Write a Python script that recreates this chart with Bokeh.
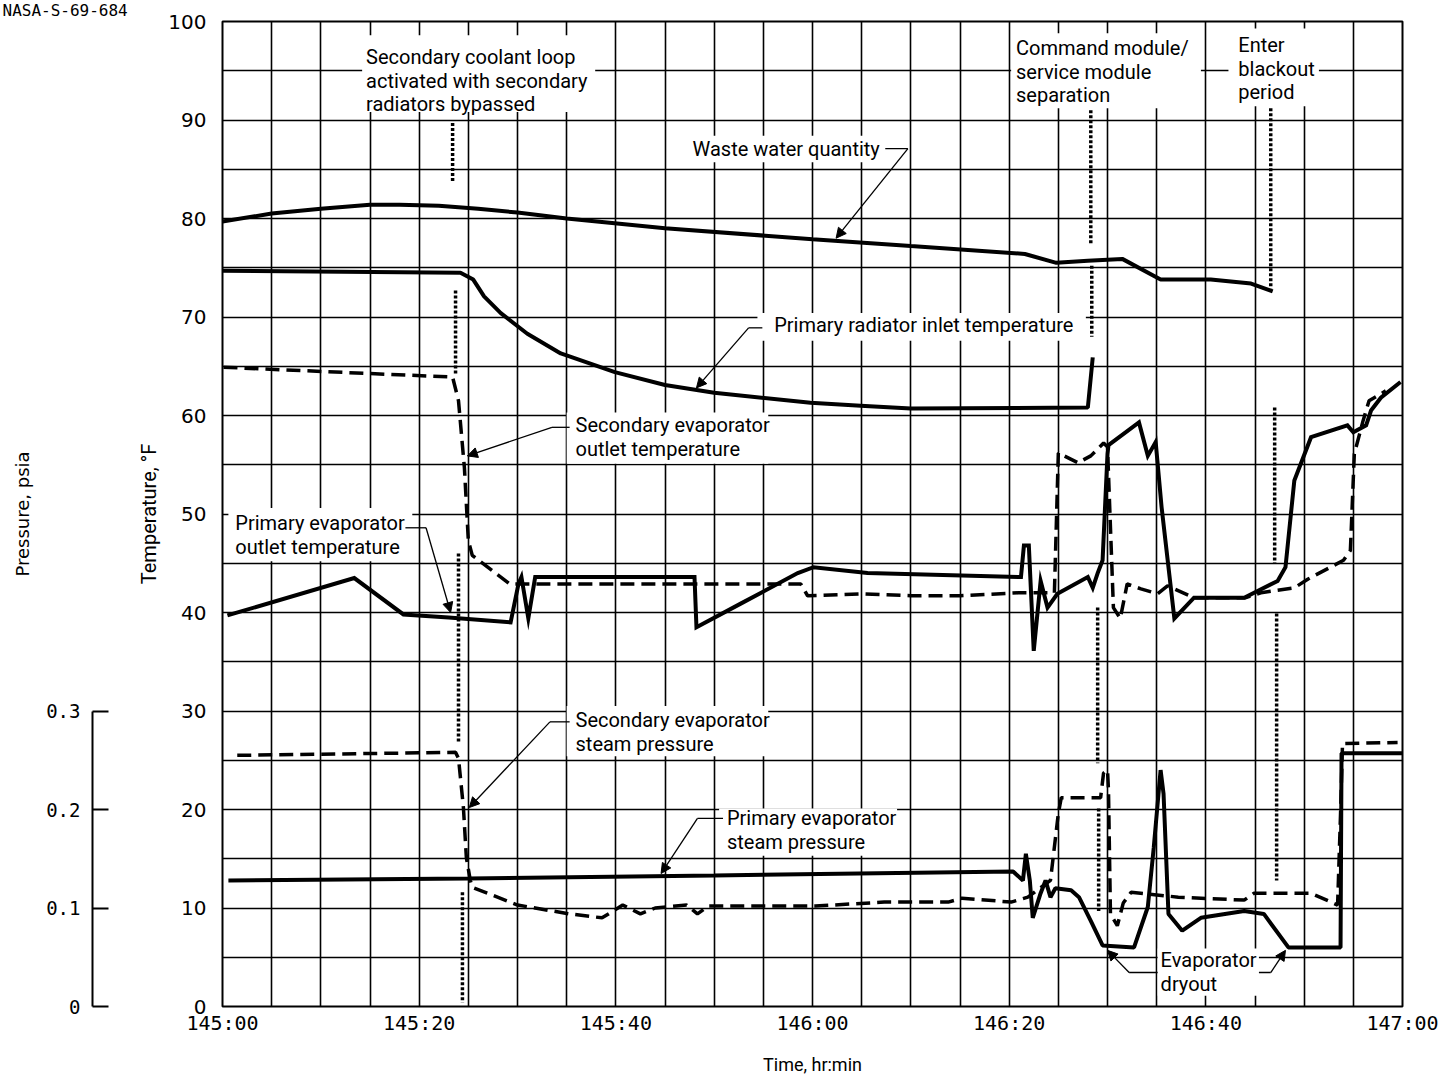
from bokeh.plotting import figure
from bokeh.models import (Range1d, LinearAxis, FixedTicker, ColumnDataSource,
                          Arrow, NormalHead, Title)
from bokeh.embed import file_html
from bokeh.resources import INLINE
from bokeh.core.properties import value

# ---------------- data (time = minutes after 145:00) ----------------
x_ticks = [0, 20, 40, 60, 80, 100, 120]
x_tick_labels = ["145:00", "145:20", "145:40", "146:00", "146:20", "146:40", "147:00"]
temp_ticks = [0, 10, 20, 30, 40, 50, 60, 70, 80, 90, 100]
pressure_ticks = [0, 0.1, 0.2, 0.3]
pressure_tick_labels = ["0", "0.1", "0.2", "0.3"]

# Waste water quantity (plotted on the 0-100 scale)
t_waste = [0, 5, 10, 15, 18, 22, 26, 30, 35, 45, 60, 70, 81.6, 84.8, 88, 91.5, 95.4, 100.5, 104.6, 106.8]
v_waste = [79.7, 80.5, 81.0, 81.4, 81.4, 81.3, 81.0, 80.6, 80.0, 79.0, 77.9, 77.2, 76.4, 75.5, 75.7, 75.9, 73.8, 73.8, 73.4, 72.6]

# Primary radiator inlet temperature, deg F
t_rad = [0, 24.2, 25.5, 26.6, 28.3, 31, 34.4, 39.9, 45, 50, 59.8, 64.9, 70, 88, 88.5]
v_rad = [74.7, 74.5, 73.8, 72.1, 70.4, 68.3, 66.3, 64.4, 63.1, 62.3, 61.3, 61.0, 60.7, 60.8, 65.9]

# Primary evaporator outlet temperature, deg F
t_peo = [0.5, 13.4, 18.4, 23, 29.3, 30.1, 30.4, 31.1, 31.8, 48.0, 48.2, 52.7, 58.5, 60.1, 65.6,
         81.2, 81.5, 82.0, 82.5, 83.2, 83.9, 84.9, 88.0, 88.5, 89.0, 89.5, 90.0, 90.1, 93.2, 94.1,
         94.9, 95.5, 96.8, 98.8, 103.9, 107.3, 108.1, 109.0, 110.7, 114.4, 115.0, 116.3, 116.8,
         117.8, 119.8]
v_peo = [39.7, 43.5, 39.8, 39.5, 39.0, 42.9, 43.6, 39.4, 43.6, 43.6, 38.5, 40.9, 44.0, 44.6, 44.0,
         43.6, 46.8, 46.8, 36.1, 43.2, 40.5, 41.9, 43.6, 42.5, 44.0, 45.3, 56.1, 57.0, 59.3, 55.9,
         57.3, 50.7, 39.4, 41.5, 41.5, 43.2, 44.6, 53.4, 57.8, 59.0, 58.3, 59.0, 60.5,
         61.8, 63.4]

# Secondary evaporator outlet temperature, deg F
t_seo = [0.1, 23.4, 24.0, 24.6, 25.0, 25.4, 29.2, 58.8, 59.5, 65, 70, 75, 80.9, 84.6, 85.0, 87.0,
         88.3, 89.6, 90.0, 90.6, 91.3, 92.0, 93.4, 95.1, 96.1, 98.8, 104, 105.6, 109, 110.4, 114,
         114.7, 115.1, 116.0, 116.6, 118.3]
v_seo = [64.9, 63.9, 61.5, 54.7, 47.3, 45.8, 42.9, 42.9, 41.7, 41.9, 41.7, 41.7, 42.0, 42.0, 56.2,
         55.2, 55.9, 57.2, 56.8, 40.5, 39.4, 42.9, 42.4, 41.9, 42.7, 41.5, 41.5, 42.0, 42.5, 43.4,
         45.3, 46.3, 56.1, 59.5, 61.5, 62.5]

# Secondary evaporator steam pressure, psia
t_ssp = [1.5, 23.7, 24.0, 24.5, 24.8, 25.2, 25.4, 30, 35.3, 38.6, 40.7, 42.5, 44, 47.2, 48.3, 49.4,
         60.3, 67.3, 73.8, 75.2, 80.2, 81.9, 84.2, 85.0, 85.3, 89.3, 89.6, 90.0, 90.1, 90.3, 91.0,
         91.6, 92.4, 97.2, 103.9, 104.9, 110.7, 113.4, 113.7, 113.9, 119.5]
p_ssp = [0.255, 0.258, 0.252, 0.202, 0.151, 0.128, 0.121, 0.103, 0.094, 0.090, 0.103, 0.094, 0.100,
         0.103, 0.094, 0.102, 0.102, 0.106, 0.106, 0.110, 0.106, 0.111, 0.128, 0.196, 0.212, 0.212,
         0.237, 0.240, 0.220, 0.094, 0.082, 0.105, 0.116, 0.111, 0.108, 0.115, 0.115, 0.103, 0.196,
         0.267, 0.268]

# Primary evaporator steam pressure, psia
t_psp = [0.6, 25, 50, 80.4, 81.4, 81.7, 82.1, 82.4, 83.2, 83.7, 84.2, 84.7, 86.3, 87.1, 88.3, 89.5,
         92.7, 94.1, 94.7, 95.4, 95.7, 96.2, 97.6, 99.5, 103.9, 105.9, 108.4, 113.7, 113.8, 120]
p_psp = [0.128, 0.130, 0.133, 0.137, 0.128, 0.155, 0.128, 0.090, 0.115, 0.128, 0.111, 0.120, 0.118,
         0.111, 0.087, 0.062, 0.060, 0.101, 0.161, 0.240, 0.216, 0.094, 0.077, 0.090, 0.097, 0.094,
         0.060, 0.060, 0.257, 0.257]

# Event markers (dotted): time, start value, end value for each drawn piece
ev_t = [23.4, 23.7, 24.0, 24.4, 88.3, 88.4, 89.0, 89.1, 106.6, 107.0, 107.2]
ev_top = [89.7, 72.7, 46.0, 11.6, 91.0, 75.2, 40.5, 20.1, 91.2, 60.8, 39.9]
ev_bot = [83.7, 64.1, 26.7, 0.4, 77.3, 68.0, 24.7, 9.7, 72.9, 45.0, 12.8]

# ---------------- figure ----------------
p = figure(width=1448, height=1078, x_range=Range1d(0, 120), y_range=Range1d(0, 100),
           output_backend="svg", toolbar_location=None,
           min_border_left=222, min_border_right=46, min_border_top=21, min_border_bottom=72)
p.extra_y_ranges = {"pressure": Range1d(0, 1.0)}
p.background_fill_color = "white"
p.border_fill_color = "white"
p.outline_line_color = "black"
p.outline_line_width = 2

p.xgrid.ticker = FixedTicker(ticks=list(range(0, 121, 5)))
p.ygrid.ticker = FixedTicker(ticks=list(range(0, 101, 5)))
p.grid.grid_line_color = "black"
p.grid.grid_line_width = 1.6
p.grid.grid_line_alpha = 1.0

xa = p.xaxis[0]
xa.ticker = FixedTicker(ticks=x_ticks)
xa.major_label_overrides = dict(zip(x_ticks, x_tick_labels))
xa.major_tick_out = 0
xa.major_tick_in = 0
xa.minor_tick_line_color = None
xa.axis_line_color = None
xa.major_label_standoff = 4
xa.major_label_text_font = "DejaVu Sans Mono"
xa.major_label_text_font_size = "20px"
xa.major_label_text_color = "black"
xa.axis_label = "Time, hr:min"
xa.axis_label_text_font = "Roboto"
xa.axis_label_text_font_size = "18px"
xa.axis_label_text_font_style = "normal"
xa.axis_label_text_color = "black"
xa.axis_label_standoff = 16

ya = p.yaxis[0]
ya.ticker = FixedTicker(ticks=temp_ticks)
ya.major_tick_out = 0
ya.major_tick_in = 0
ya.minor_tick_line_color = None
ya.axis_line_color = None
ya.major_label_standoff = 16
ya.major_label_text_font = "DejaVu Sans"
ya.major_label_text_font_size = "20px"
ya.major_label_text_color = "black"
ya.axis_label = "Temperature, °F"
ya.axis_label_text_font = "Roboto"
ya.axis_label_text_font_size = "20px"
ya.axis_label_text_font_style = "normal"
ya.axis_label_text_color = "black"
ya.axis_label_standoff = 4

# blank gap between the temperature scale and the pressure scale
spacer = LinearAxis(ticker=FixedTicker(ticks=[95]), major_tick_out=42, major_tick_in=0,
                    axis_line_color=None, major_tick_line_color="white",
                    minor_tick_line_color=None, major_label_standoff=0,
                    major_label_overrides={95: ""}, major_label_text_font_size="1px")
p.add_layout(spacer, "left")

pa = LinearAxis(y_range_name="pressure", ticker=FixedTicker(ticks=pressure_ticks),
                bounds=(0, 0.3))
pa.major_label_overrides = dict(zip(pressure_ticks, pressure_tick_labels))
pa.major_tick_in = 16
pa.major_tick_out = 0
pa.minor_tick_line_color = None
pa.axis_line_width = 2
pa.major_tick_line_width = 2
pa.major_label_standoff = 12
pa.major_label_text_font = "DejaVu Sans Mono"
pa.major_label_text_font_size = "19px"
pa.major_label_text_color = "black"
pa.axis_label = "Pressure, psia"
pa.axis_label_text_font = "DejaVu Sans"
pa.axis_label_text_font_size = "18px"
pa.axis_label_text_font_style = "normal"
pa.axis_label_text_color = "black"
pa.axis_label_standoff = 10
p.add_layout(pa, "left")

p.add_layout(Title(text="NASA-S-69-684", align="left", offset=-220, standoff=0,
                   text_font="DejaVu Sans Mono", text_font_size="16px",
                   text_font_style="normal", text_color="black", vertical_align="top"), "above")

# ---------------- white label boxes ----------------
boxes = dict(
    left=[14.2, 47.2, 54.4, 35.0, 0.6, 35.0, 50.5, 80.2, 102.3, 95.1],
    right=[37.9, 69.2, 87.8, 55.5, 19.3, 55.5, 68.6, 99.5, 111.5, 105.4],
    top=[98.6, 88.4, 70.4, 60.3, 50.6, 30.5, 20.1, 98.8, 99.3, 5.9],
    bottom=[90.8, 85.7, 67.6, 55.1, 45.2, 25.4, 15.3, 91.2, 91.4, 1.1],
)
p.quad(source=ColumnDataSource(boxes), left="left", right="right", top="top", bottom="bottom",
       fill_color="white", line_color=None)

# ---------------- data lines ----------------
solid_w = 4
dash_w = 3.5
dash = "14 7"
p.line(t_waste, v_waste, line_color="black", line_width=solid_w)
p.line(t_rad, v_rad, line_color="black", line_width=solid_w)
p.line(t_peo, v_peo, line_color="black", line_width=solid_w, line_join="miter")
p.line(t_seo, v_seo, line_color="black", line_width=dash_w, line_dash=dash)
p.line(t_ssp, p_ssp, line_color="black", line_width=dash_w, line_dash=dash, y_range_name="pressure")
p.line(t_psp, p_psp, line_color="black", line_width=solid_w, y_range_name="pressure")

# event markers
p.segment(x0=ev_t, y0=ev_top, x1=ev_t, y1=ev_bot, line_color="black", line_width=3.5,
          line_dash="3 2")

# ---------------- leaders with arrowheads ----------------
leaders = [
    [(67.4, 87.1), (69.7, 87.1), (62.4, 78.0)],
    [(54.9, 68.9), (53.5, 68.9), (48.2, 62.8)],
    [(35.3, 58.8), (33.5, 58.8), (24.9, 55.9)],
    [(18.6, 48.6), (20.7, 48.6), (23.2, 40.0)],
    [(35.3, 28.9), (33.3, 28.9), (25.1, 20.2)],
    [(50.9, 19.1), (48.3, 19.1), (44.6, 13.5)],
    [(95.1, 3.45), (92.2, 3.45), (90.0, 5.7)],
    [(105.4, 3.45), (106.6, 3.45), (108.1, 5.7)],
]
for pts in leaders:
    xs = [q[0] for q in pts[:-1]]
    ys = [q[1] for q in pts[:-1]]
    p.line(xs, ys, line_color="black", line_width=1.3)
    p.add_layout(Arrow(x_start=pts[-2][0], y_start=pts[-2][1], x_end=pts[-1][0], y_end=pts[-1][1],
                       line_color="black", line_width=1.3,
                       end=NormalHead(size=10, fill_color="black", line_color="black")))

# ---------------- annotation texts ----------------
ann = [
    (14.6, 96.4, ["Secondary coolant loop", "activated with secondary", "radiators bypassed"]),
    (47.8, 87.1, ["Waste water quantity"]),
    (56.1, 69.2, ["Primary radiator inlet temperature"]),
    (35.9, 59.0, ["Secondary evaporator", "outlet temperature"]),
    (1.3, 49.1, ["Primary evaporator", "outlet temperature"]),
    (35.9, 29.1, ["Secondary evaporator", "steam pressure"]),
    (51.3, 19.1, ["Primary evaporator", "steam pressure"]),
    (80.7, 97.3, ["Command module/", "service module", "separation"]),
    (103.3, 97.6, ["Enter", "blackout", "period"]),
    (95.4, 4.7, ["Evaporator", "dryout"]),
]
line_step = 2.4
tx, ty, tt = [], [], []
for x0, y0, lines in ann:
    for i, s in enumerate(lines):
        tx.append(x0)
        ty.append(y0 - i * line_step)
        tt.append(s)
p.text(x=tx, y=ty, text=tt, text_font=value("Roboto"), text_font_size="20px",
       text_baseline="middle", text_align="left", text_color="black")

open("out.html", "w").write(file_html(p, INLINE))
